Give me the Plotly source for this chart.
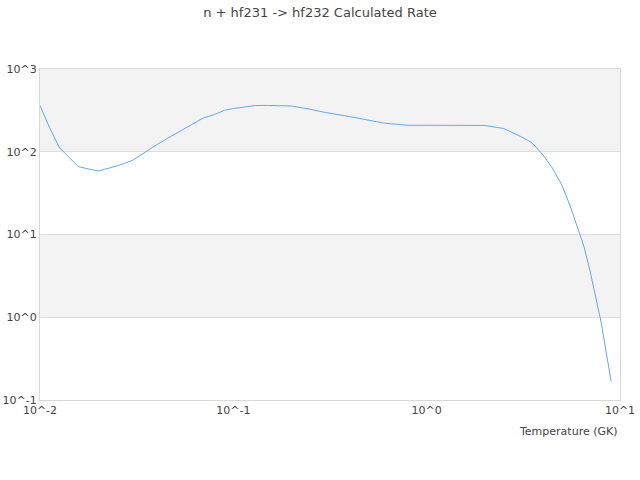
import plotly.graph_objects as go

# temperature grid (GK) and rate
temperature = [0.01, 0.0112, 0.0126, 0.0141, 0.0158, 0.02, 0.025, 0.03, 0.035,
               0.04, 0.05, 0.06, 0.07, 0.08, 0.09, 0.1, 0.13, 0.15, 0.2, 0.25,
               0.3, 0.4, 0.5, 0.6, 0.7, 0.8, 1.0, 1.5, 2.0, 2.5, 3.0, 3.5, 4.0,
               4.5, 5.0, 5.5, 6.0, 6.5, 7.0, 7.5, 8.0, 8.5, 9.0]
rate = [362, 196, 112, 86.5, 65.9, 58.5, 67.3, 78.3, 100,
        121, 164, 207, 256, 282, 317, 333, 362, 363, 357, 326,
        298, 266, 240, 222, 215, 209, 209, 209, 208, 191, 157, 129, 91.4,
        62, 39.6, 22.7, 12.7, 7.26, 3.63, 1.76, 0.853, 0.366, 0.168]

x_ticks = [0.01, 0.1, 1, 10]
x_labels = ["10^-2", "10^-1", "10^0", "10^1"]
y_ticks = [0.1, 1, 10, 100, 1000]
y_labels = ["10^-1", "10^0", "10^1", "10^2", "10^3"]
bands = [(1, 10), (100, 1000)]

fig = go.Figure(go.Scatter(
    x=temperature, y=rate, mode="lines",
    line=dict(color="#62a8f0", width=1),
    showlegend=False,
))

for lo, hi in bands:
    fig.add_shape(type="rect", xref="paper", yref="y", x0=0, x1=1, y0=lo, y1=hi,
                  fillcolor="#f3f3f3", line_width=0, layer="below")

axis_style = dict(
    type="log", showline=True, mirror=True, linecolor="#d8d8d8", linewidth=1,
    ticks="", zeroline=False, automargin=False,
    tickfont=dict(size=11, color="#444"),
)

fig.update_xaxes(range=[-2, 1], tickvals=x_ticks, ticktext=x_labels,
                 showgrid=False, **axis_style)
fig.update_yaxes(range=[-1, 3], tickvals=y_ticks, ticktext=y_labels,
                 showgrid=True, gridcolor="#dddddd", gridwidth=1, **axis_style)

fig.add_annotation(text="Temperature (GK)", xref="paper", yref="paper",
                   x=1, y=-0.094, xanchor="right", yanchor="middle",
                   showarrow=False, font=dict(size=11, color="#444"))

fig.update_layout(
    title=dict(text="n + hf231 -> hf232 Calculated Rate", x=0.5, xanchor="center",
               y=0.975, yanchor="middle", font=dict(size=13, color="#444")),
    font=dict(family="DejaVu Sans"),
    width=640, height=480,
    margin=dict(l=40, r=20, t=69, b=80),
    plot_bgcolor="white", paper_bgcolor="white",
)

# drop the default 8px body margin so the figure sits at the window corner
fig.write_html("out.html", config={"displayModeBar": False},
               post_script="document.body.style.margin='0';")
